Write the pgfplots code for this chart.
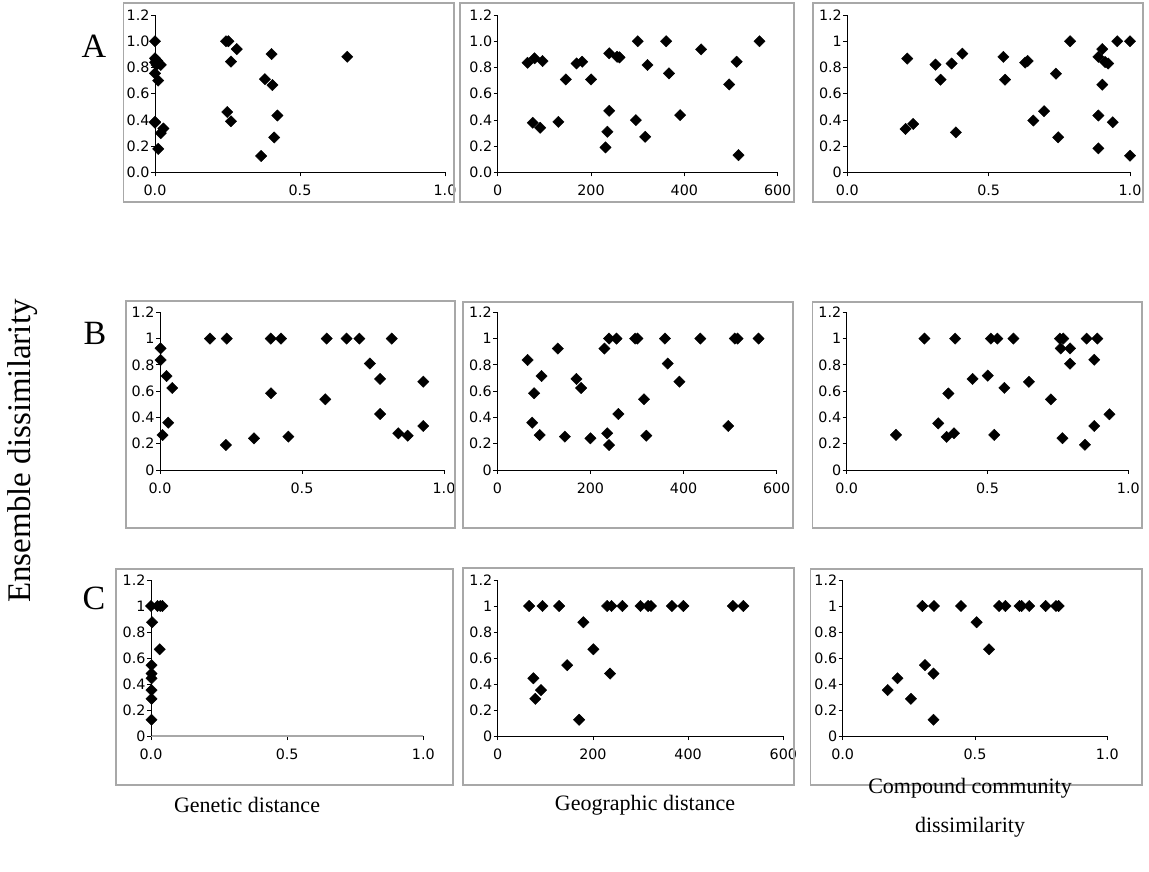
\documentclass[border=0pt]{standalone}
\usepackage{pgfplots}
\pgfplotsset{compat=1.18}
\usepackage{fontspec}
\setmainfont{Liberation Serif}
\newfontfamily\tickfont{DejaVu Sans}
\definecolor{boxgray}{RGB}{168,168,168}
\pgfplotsset{
  panel/.style={
    scale only axis, clip=false,
    axis lines=left, axis line style={-, black, line width=0.9pt},
    tick align=outside, major tick length=4pt,
    tick style={black, line width=0.8pt},
    ymin=0, ymax=1.2, ytick={0,0.2,0.4,0.6,0.8,1,1.2},
    /pgf/number format/assume math mode=true,
    tick label style={font=\tickfont\fontsize{14.3}{16}\selectfont},
    xticklabel style={yshift=-5pt},
    yticklabel style={xshift=2pt},
    anchor=south west,
  },
  gen/.style={xmin=0, xmax=1, xtick={0,0.5,1},
    xticklabel style={/pgf/number format/.cd, fixed, fixed zerofill, precision=1}},
  geo/.style={xmin=0, xmax=600, xtick={0,200,400,600}},
  yzero/.style={yticklabel style={/pgf/number format/.cd, fixed, fixed zerofill, precision=1}},
  pts/.style={only marks, mark=square*, mark size=4pt, mark options={rotate=45, fill=black, draw=black}, color=black},
}
\begin{document}
\begin{tikzpicture}
\path[use as bounding box] (0pt,0pt) rectangle (1149pt,871pt);
\coordinate (pA1) at (155pt,698.5pt);
\coordinate (pA2) at (497.7pt,698.5pt);
\coordinate (pA3) at (847.3pt,698.5pt);
\coordinate (pB1) at (160pt,401pt);
\coordinate (pB2) at (497.3pt,401pt);
\coordinate (pB3) at (846.7pt,401pt);
\coordinate (pC1) at (151pt,135pt);
\coordinate (pC2) at (497.7pt,135pt);
\coordinate (pC3) at (842.7pt,135pt);

% ---------- Row A ----------
\begin{axis}[panel, gen, yzero, at={(pA1)}, width=290pt, height=157.5pt]
\addplot[pts] table {
0 1.0
0 0.87
0.003 0.86
0.008 0.85
0 0.84
0.01 0.83
0.02 0.82
0.005 0.82
0 0.755
0.011 0.70
0 0.38
0 0.386
0.02 0.30
0.029 0.335
0.011 0.18
0.245 1.0
0.253 1.0
0.282 0.94
0.262 0.845
0.249 0.461
0.262 0.39
0.402 0.902
0.379 0.711
0.405 0.666
0.422 0.434
0.411 0.267
0.366 0.126
0.663 0.882
};
\end{axis}

\begin{axis}[panel, geo, yzero, at={(pA2)}, width=280pt, height=157.5pt]
\addplot[pts] table {
64 0.836
79 0.87
96 0.849
75 0.379
91 0.341
130 0.386
146 0.709
169 0.831
181 0.844
200 0.709
231 0.191
235 0.31
239 0.908
239 0.47
256 0.882
261 0.877
296 0.399
300 1.0
316 0.272
321 0.819
361 1.0
367 0.755
391 0.437
436 0.938
496 0.671
512 0.844
516 0.132
561 1.0
};
\end{axis}

\begin{axis}[panel, gen, at={(pA3)}, width=282.7pt, height=157.5pt]
\addplot[pts] table {
0.212 0.868
0.206 0.332
0.233 0.370
0.312 0.822
0.330 0.707
0.369 0.830
0.384 0.306
0.407 0.906
0.552 0.881
0.558 0.707
0.629 0.837
0.638 0.850
0.658 0.396
0.696 0.467
0.738 0.753
0.746 0.268
0.788 1.0
0.888 0.881
0.902 0.940
0.902 0.669
0.912 0.842
0.923 0.830
0.888 0.434
0.939 0.383
0.888 0.184
0.955 1.0
1.0 1.0
1.0 0.128
};
\end{axis}

% ---------- Row B ----------
\begin{axis}[panel, gen, at={(pB1)}, width=284pt, height=157.7pt]
\addplot[pts] table {
0.002 0.926
0.002 0.837
0.023 0.715
0.043 0.624
0.029 0.36
0.009 0.266
0.176 1.0
0.235 1.0
0.232 0.19
0.331 0.241
0.390 1.0
0.426 1.0
0.391 0.584
0.452 0.254
0.587 1.0
0.582 0.538
0.657 1.0
0.702 1.0
0.739 0.81
0.775 0.693
0.775 0.426
0.816 1.0
0.839 0.279
0.872 0.261
0.927 0.672
0.927 0.335
};
\end{axis}

\begin{axis}[panel, geo, at={(pB2)}, width=279.4pt, height=157.7pt]
\addplot[pts] table {
65 0.837
79 0.584
75 0.36
95 0.715
91 0.266
130 0.924
145 0.254
170 0.693
180 0.624
200 0.241
230 0.924
236 0.279
240 1.0
240 0.19
256 1.0
260 0.426
296 1.0
301 1.0
315 0.538
320 0.261
360 1.0
366 0.81
391 0.672
436 1.0
496 0.335
510 1.0
516 1.0
561 1.0
};
\end{axis}

\begin{axis}[panel, gen, at={(pB3)}, width=281.6pt, height=157.7pt]
\addplot[pts] table {
0.175 0.267
0.276 1.0
0.325 0.355
0.361 0.582
0.355 0.252
0.381 0.28
0.385 1.0
0.447 0.693
0.501 0.718
0.512 1.0
0.535 1.0
0.524 0.267
0.560 0.625
0.592 1.0
0.647 0.671
0.725 0.537
0.757 1.0
0.769 1.0
0.760 0.925
0.793 0.925
0.793 0.809
0.766 0.242
0.846 0.192
0.852 1.0
0.890 1.0
0.879 0.839
0.879 0.335
0.933 0.424
};
\end{axis}

% ---------- Row C ----------
\begin{axis}[panel, gen, at={(pC1)}, width=272.3pt, height=156pt,
  x axis line style={boxgray, line width=1.6pt}]
\addplot[pts] table {
0 1
0.024 1
0.034 1
0.042 1
0.004 0.875
0.032 0.667
0.002 0.545
0.002 0.48
0.002 0.444
0.002 0.353
0.002 0.286
0.002 0.125
};
\end{axis}

\begin{axis}[panel, geo, at={(pC2)}, width=285.6pt, height=156pt]
\addplot[pts] table {
66 1
94 1
129 1
75 0.444
79 0.286
91 0.353
146 0.545
171 0.125
180 0.875
201 0.667
230 1
239 1
236 0.48
262 1
300 1
316 1
322 1
366 1
390 1
494 1
516 1
};
\end{axis}

\begin{axis}[panel, gen, at={(pC3)}, width=264.6pt, height=156pt]
\addplot[pts] table {
0.170 0.353
0.207 0.444
0.258 0.286
0.301 1
0.311 0.545
0.345 1
0.343 0.48
0.343 0.125
0.447 1
0.506 0.875
0.553 0.667
0.591 1
0.615 1
0.668 1
0.676 1
0.705 1
0.767 1
0.806 1
0.816 1
};
\end{axis}

% ---------- panel frames ----------
\begin{scope}[boxgray, line width=1.3pt]
\draw (123.5pt,669pt) rectangle (454pt,868pt);
\draw (460pt,669pt) rectangle (794pt,868pt);
\draw (813pt,669pt) rectangle (1143pt,868pt);
\draw (126pt,343pt) rectangle (455pt,570pt);
\draw (463pt,343pt) rectangle (793pt,569pt);
\draw (812.7pt,343pt) rectangle (1142pt,569pt);
\draw (116pt,86pt) rectangle (453pt,302pt);
\draw (463pt,86pt) rectangle (794pt,303pt);
\draw (810.7pt,86pt) rectangle (1142pt,302pt);
\end{scope}

% ---------- labels ----------
\node[inner sep=0, font=\fontsize{34}{34}\selectfont] at (94pt,825pt) {A};
\node[inner sep=0, font=\fontsize{34}{34}\selectfont] at (95pt,538pt) {B};
\node[inner sep=0, font=\fontsize{34}{34}\selectfont] at (94pt,273pt) {C};
\node[inner sep=0, rotate=90, font=\fontsize{33}{33}\selectfont] at (23pt,420pt) {Ensemble dissimilarity};
\node[inner sep=0, font=\fontsize{22}{26}\selectfont] at (247pt,66pt) {Genetic distance};
\node[inner sep=0, font=\fontsize{22}{26}\selectfont] at (645pt,66pt) {Geographic distance};
\node[inner sep=0, align=center, font=\fontsize{22}{39}\selectfont] at (970pt,63pt) {Compound community\\dissimilarity};
\end{tikzpicture}
\end{document}
